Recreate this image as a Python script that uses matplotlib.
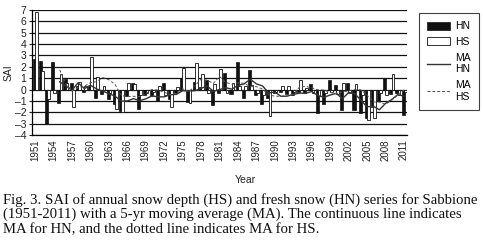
import matplotlib.pyplot as plt
import numpy as np
import pandas as pd

# SAI values, 1951-2011
years = np.arange(1951, 2012)
hn = [2.7, 2.5, -3.0, 2.4, -1.2, 0.9, 0.6, 0.3, -0.2, 0.3,
      -0.7, -0.4, -0.8, -1.3, -1.9, -0.6, 0.6, -1.7, -0.5, -0.6,
      -1.0, 0.6, -0.8, -0.3, 1.0, -1.1, 0.7, 0.2, 0.8, -1.4,
      -0.3, 1.5, -0.4, 2.4, -0.7, 1.7, -0.5, -1.3, -0.7, -0.3,
      -0.2, -0.4, -0.5, -0.2, -0.3, 0.5, -2.1, -1.3, 0.8, 0.4,
      -1.8, 0.6, -1.8, -2.1, -2.5, -1.5, -1.0, 1.0, -0.4, -0.3,
      -2.2]
hs = [6.8, 1.6, -0.8, -0.3, 1.4, 0.6, -1.5, 0.7, 0.3, 2.9,
      1.1, 0.3, -0.3, -1.7, -2.0, 0.6, 0.45, -0.5, -0.3, -0.2,
      0.3, -0.5, -1.5, 0.2, 1.9, -1.2, 2.3, 1.4, -0.3, 0.5,
      1.85, -0.3, 0.6, 0.3, 0.3, 0.4, -0.3, -0.5, -2.3, -0.2,
      0.3, 0.3, -0.2, 0.85, 0.15, -0.3, -0.6, -0.3, -0.2, -0.4,
      0.55, -0.3, 0.5, -0.5, -2.7, -2.5, -0.3, -0.5, 1.35, -0.5,
      -0.2]
year_ticks = np.arange(1951, 2012, 3)

# 5-yr moving average (trailing, as in the caption)
ma_hn = pd.Series(hn).rolling(5).mean()
ma_hs = pd.Series(hs).rolling(5).mean()

plt.rcParams['font.family'] = ['Liberation Sans', 'DejaVu Sans']

fig = plt.figure(figsize=(4.83, 2.48), dpi=100)
ax = fig.add_axes([0.0663, 0.4556, 0.7764, 0.504])

b1 = ax.bar(years - 0.13, hn, width=0.5, color='#111111', edgecolor='#111111',
            linewidth=0.5, zorder=3)
b2 = ax.bar(years + 0.2, hs, width=0.45, color='white', edgecolor='#111111',
            linewidth=0.6, zorder=3)
l1, = ax.plot(years, ma_hn, color='#333333', linewidth=1.0, zorder=4)
l2, = ax.plot(years, ma_hs, color='#555555', linewidth=0.7,
              linestyle=(0, (3, 2)), zorder=4)

ax.set_xlim(1950.5, 2011.5)
ax.set_ylim(-4, 7)
ax.set_yticks(range(-4, 8))
ax.set_yticklabels([str(v).replace('-', '\u2013') for v in range(-4, 8)])
ax.set_xticks(year_ticks)
ax.set_xticklabels([str(y) for y in year_ticks], rotation=90)
ax.tick_params(axis='x', length=0, pad=3, labelsize=7, colors='#222222')
ax.tick_params(axis='y', length=2, pad=2, labelsize=7.5, colors='#222222')
ax.yaxis.grid(True, color='#111111', linewidth=0.9)
ax.set_axisbelow(True)
for side in ['top', 'right']:
    ax.spines[side].set_visible(False)
ax.spines['left'].set_linewidth(0.9)
ax.spines['bottom'].set_linewidth(0.9)

ax.set_ylabel('SAI', fontsize=7.5, labelpad=1, color='#222222')
ax.set_xlabel('Year', fontsize=7.5, color='#222222')
ax.xaxis.set_label_coords(0.57, -0.32)

leg = fig.legend([b1, b2, l1, l2], ['HN', 'HS', 'MA\nHN', 'MA\nHS'],
                 loc='upper left', bbox_to_anchor=(0.867, 0.948),
                 fontsize=7.5, frameon=True, fancybox=False, edgecolor='#111111',
                 handlelength=2.2, handleheight=0.8, labelspacing=0.55,
                 borderpad=0.8, handletextpad=0.5, borderaxespad=0)
leg.get_frame().set_linewidth(0.8)

caption = ["Fig. 3. SAI of annual snow depth (HS) and fresh snow (HN) series for Sabbione",
           "(1951-2011) with a 5-yr moving average (MA). The continuous line indicates",
           "MA for HN, and the dotted line indicates MA for HS."]
for k, line in enumerate(caption):
    fig.text(0.006, 1 - (200 + 14.6 * k) / 248, line, family='Liberation Serif',
             fontsize=10.6, va='center', ha='left', color='#111111')

fig.savefig('out.png', dpi=100)
